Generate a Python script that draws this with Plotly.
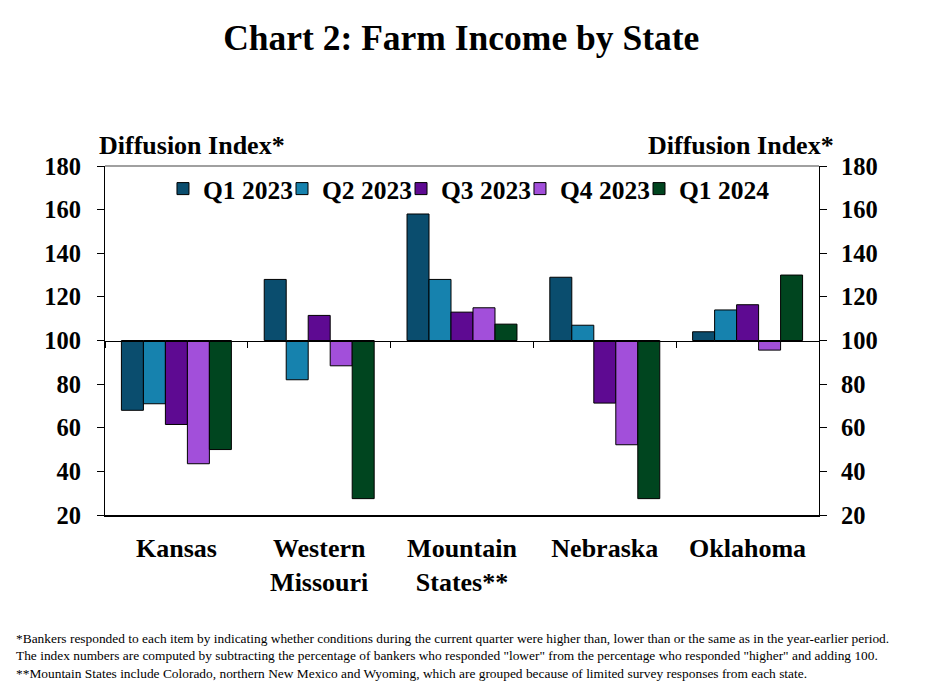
import plotly.graph_objects as go

categories = ["Kansas", "Western<br>Missouri", "Mountain<br>States**", "Nebraska", "Oklahoma"]
series_names = ["Q1 2023", "Q2 2023", "Q3 2023", "Q4 2023", "Q1 2024"]
q1_2023 = [68, 128, 158, 129, 104]
q2_2023 = [71, 82, 128, 107, 114]
q3_2023 = [61.5, 111.5, 113, 71.3, 116.4]
q4_2023 = [43.5, 88.4, 115, 52.2, 95.6]
q1_2024 = [50, 27.5, 107.5, 27.5, 130]
series_values = [q1_2023, q2_2023, q3_2023, q4_2023, q1_2024]
colors = ["#0A4D6E", "#1682AE", "#5E0A92", "#A24FDA", "#00451F"]
y_ticks = [20, 40, 60, 80, 100, 120, 140, 160, 180]
baseline = 100

FONT = "Liberation Serif"

legend_ids = ["legend", "legend2", "legend3", "legend4", "legend5"]
legend_x = [0.0812, 0.2479, 0.4146, 0.5812, 0.7479]

fig = go.Figure()
for name, vals, col, lid in zip(series_names, series_values, colors, legend_ids):
    fig.add_trace(go.Bar(
        x=categories, y=[v - baseline for v in vals], base=baseline,
        name=name, marker=dict(color=col, line=dict(color="black", width=1)),
        legend=lid,
    ))

# invisible trace on right axis so it renders
fig.add_trace(go.Scatter(x=categories, y=[None]*len(categories), yaxis="y2",
                         showlegend=False, hoverinfo="skip"))
# invisible trace for the mid category axis (at 100)
fig.add_trace(go.Scatter(x=categories, y=[None]*len(categories), xaxis="x2",
                         showlegend=False, hoverinfo="skip"))

tick_font = dict(family=FONT, size=24.5, color="black", weight="bold")
legend_font = dict(family=FONT, size=25.5, color="black", weight="bold")

fig.update_layout(
    width=925, height=693,
    paper_bgcolor="white", plot_bgcolor="white",
    margin=dict(l=97, r=114, t=158, b=186),
    barmode="group", bargap=0.23, bargroupgap=0,
    title=dict(text="<b>Chart 2: Farm Income by State</b>", x=0.49, xanchor="center",
               y=0.957, yanchor="middle", font=dict(family=FONT, size=35.5, color="black")),
    font=dict(family=FONT, color="black"),
    xaxis=dict(type="category", showline=True, linecolor="black", linewidth=1.5,
               ticks="", showgrid=False,
               tickfont=dict(family=FONT, size=26, color="black", weight="bold"),
               ticklabelstandoff=9),
    xaxis2=dict(type="category", matches="x", overlaying="x", anchor="free",
                position=(baseline - y_ticks[0]) / (y_ticks[-1] - y_ticks[0]),
                showline=True, linecolor="black", linewidth=1, ticks="outside",
                tickson="boundaries", ticklen=6, tickcolor="black",
                showticklabels=False, showgrid=False),
    yaxis=dict(range=[y_ticks[0], y_ticks[-1]], tickvals=y_ticks, showline=True,
               linecolor="black", linewidth=1, ticks="outside", ticklen=7, tickcolor="black",
               showgrid=False, zeroline=False, tickfont=tick_font, ticklabelstandoff=11),
    yaxis2=dict(range=[y_ticks[0], y_ticks[-1]], tickvals=y_ticks, overlaying="y",
                side="right", showline=True, linecolor="black", linewidth=1, ticks="outside",
                ticklen=7, tickcolor="black", showgrid=False, zeroline=False,
                tickfont=tick_font, ticklabelstandoff=9),
    showlegend=True,
)
for lid, lx in zip(legend_ids, legend_x):
    fig.update_layout({lid: dict(orientation="h", x=lx, xanchor="left", y=0.934,
                                 yanchor="middle", font=legend_font,
                                 bgcolor="rgba(0,0,0,0)", itemwidth=30)})

# gray top border of plot area
fig.add_shape(type="line", xref="paper", yref="paper", x0=0, x1=1, y0=1, y1=1,
              line=dict(color="#808080", width=1.5))

fig.add_annotation(text="<b>Diffusion Index*</b>", xref="paper", yref="paper",
                   x=-0.011, y=1.06, xanchor="left", yanchor="middle", showarrow=False,
                   font=dict(family=FONT, size=26, color="black"))
fig.add_annotation(text="<b>Diffusion Index*</b>", xref="paper", yref="paper",
                   x=1.024, y=1.06, xanchor="right", yanchor="middle", showarrow=False,
                   font=dict(family=FONT, size=26, color="black"))

footnote = ("*Bankers responded to each item by indicating whether conditions during the current quarter were higher than, lower than or the same as in the year-earlier period.<br>"
            "The index numbers are computed by subtracting the percentage of bankers who responded \"lower\" from the percentage who responded \"higher\" and adding 100.<br>"
            "**Mountain States include Colorado, northern New Mexico and Wyoming, which are grouped because of limited survey responses from each state.")
fig.add_annotation(text=footnote, xref="paper", yref="paper", x=-0.1275, y=-0.326,
                   xanchor="left", yanchor="top", align="left", showarrow=False,
                   font=dict(family=FONT, size=13.4, color="black"))

fig.write_html("out.html")
